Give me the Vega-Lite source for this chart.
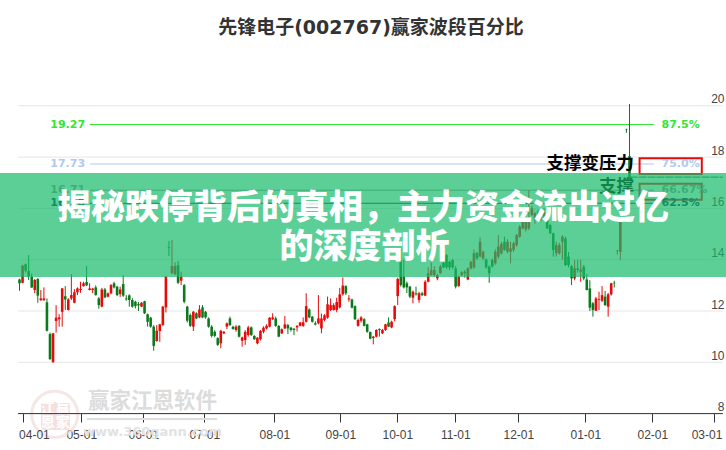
{"$schema":"https://vega.github.io/schema/vega-lite/v6.json","width":726,"height":450,"autosize":{"type":"none"},"padding":0,"background":"white",
"title":{"text":"先锋电子(002767)赢家波段百分比","frame":"group","anchor":"middle","orient":"top","offset":-38,"dx":8,"font":"DejaVu Sans, Noto Sans CJK SC","fontSize":19,"fontWeight":"bold","color":"#333333"},
"config":{"view":{"stroke":null}},
"datasets":{
"grid":[{"p":8},{"p":10},{"p":12},{"p":14},{"p":16},{"p":18},{"p":20}],
"levels":[{"pct":"87.5%","p":19.27,"v":"19.27"},{"pct":"75.0%","p":17.73,"v":"17.73"},{"pct":"66.67%","p":16.71,"v":"16.71"},{"pct":"62.5%","p":16.2,"v":"16.20"}],
"notes":[{"t":"支撑变压力","p":17.73},{"t":"支撑","p":16.83}],
"boxes":[{"a":17.96,"b":17.34},{"a":16.96,"b":16.34}],
"edge":[{"m":"04-01","i":4.9},{"m":"03-01","i":225.4}],
"candles":[
{"i":0,"o":13.23,"c":13.08,"h":13.26,"l":12.79},{"i":1,"o":13.1,"c":13.77,"h":13.8,"l":13.08},{"i":2,"o":13.82,"c":13.57,"h":13.85,"l":13.5},{"i":3,"o":13.56,"c":13.34,"h":14.18,"l":13.21},{"i":4,"o":13.34,"c":12.92,"h":13.47,"l":12.9},{"i":5,"o":12.82,"c":13.21,"h":13.25,"l":12.69},{"i":6,"o":13.25,"c":12.6,"h":13.28,"l":12.32},{"i":7,"o":12.42,"c":12.49,"h":12.82,"l":12.4},{"i":8,"o":12.42,"c":12.49,"h":12.92,"l":12.4},{"i":9,"o":12.34,"c":11.23,"h":12.49,"l":11.2},
{"i":10,"o":11.1,"c":10.12,"h":11.16,"l":10.1},{"i":11,"o":10.0,"c":11.13,"h":11.15,"l":10.0},{"i":12,"o":11.61,"c":11.74,"h":12.23,"l":11.16},{"i":13,"o":11.68,"c":11.75,"h":11.88,"l":11.39},{"i":14,"o":11.97,"c":12.88,"h":12.9,"l":11.39},{"i":15,"o":12.58,"c":12.45,"h":12.97,"l":12.04},{"i":16,"o":12.04,"c":12.45,"h":12.5,"l":12.02},{"i":17,"o":12.49,"c":12.62,"h":13.44,"l":12.43},{"i":18,"o":12.32,"c":12.73,"h":12.85,"l":12.3},{"i":19,"o":12.73,"c":12.88,"h":12.92,"l":12.62},
{"i":20,"o":12.82,"c":12.86,"h":13.14,"l":12.71},{"i":21,"o":12.97,"c":13.08,"h":13.14,"l":12.95},{"i":22,"o":13.13,"c":13.0,"h":13.75,"l":12.97},{"i":23,"o":12.82,"c":12.88,"h":13.08,"l":12.8},{"i":24,"o":12.82,"c":12.87,"h":12.9,"l":12.69},{"i":25,"o":12.92,"c":12.62,"h":13.0,"l":12.6},{"i":26,"o":12.49,"c":12.23,"h":12.55,"l":12.09},{"i":27,"o":12.17,"c":12.84,"h":12.9,"l":12.15},{"i":28,"o":12.84,"c":12.53,"h":12.9,"l":12.5},{"i":29,"o":12.56,"c":12.69,"h":12.72,"l":12.53},
{"i":30,"o":12.69,"c":13.01,"h":13.05,"l":12.65},{"i":31,"o":13.08,"c":12.92,"h":13.14,"l":12.88},{"i":32,"o":12.95,"c":12.62,"h":12.98,"l":12.58},{"i":33,"o":12.66,"c":12.84,"h":12.95,"l":12.55},{"i":34,"o":13.05,"c":12.6,"h":13.4,"l":12.55},{"i":35,"o":12.49,"c":12.45,"h":12.62,"l":12.4},{"i":36,"o":12.61,"c":12.43,"h":12.65,"l":12.17},{"i":37,"o":12.43,"c":12.17,"h":12.5,"l":12.13},{"i":38,"o":12.36,"c":12.19,"h":12.4,"l":12.1},{"i":39,"o":12.27,"c":12.22,"h":12.35,"l":12.0},
{"i":40,"o":12.17,"c":12.32,"h":12.35,"l":12.15},{"i":41,"o":12.38,"c":11.91,"h":12.4,"l":11.88},{"i":42,"o":11.87,"c":11.58,"h":11.9,"l":11.39},{"i":43,"o":11.74,"c":11.39,"h":11.77,"l":11.35},{"i":44,"o":11.39,"c":10.64,"h":11.45,"l":10.45},{"i":45,"o":10.83,"c":11.23,"h":11.45,"l":10.8},{"i":46,"o":11.22,"c":11.48,"h":11.5,"l":10.8},{"i":47,"o":11.45,"c":12.17,"h":12.2,"l":11.42},{"i":48,"o":12.14,"c":13.34,"h":13.36,"l":11.94},{"i":49,"o":14.5,"c":14.47,"h":14.73,"l":14.14},
{"i":50,"o":13.47,"c":13.75,"h":14.77,"l":13.45},{"i":51,"o":13.44,"c":13.75,"h":13.9,"l":13.4},{"i":52,"o":13.79,"c":13.1,"h":13.95,"l":13.05},{"i":53,"o":13.18,"c":13.34,"h":13.53,"l":13.01},{"i":54,"o":13.01,"c":12.36,"h":13.05,"l":12.3},{"i":55,"o":12.17,"c":11.62,"h":12.2,"l":11.55},{"i":56,"o":11.84,"c":11.42,"h":11.9,"l":11.38},{"i":57,"o":11.39,"c":11.97,"h":12.0,"l":11.22},{"i":58,"o":11.91,"c":11.71,"h":11.95,"l":11.68},{"i":59,"o":11.75,"c":12.06,"h":12.23,"l":11.72},
{"i":60,"o":12.14,"c":11.75,"h":12.23,"l":11.72},{"i":61,"o":11.97,"c":11.75,"h":12.0,"l":11.7},{"i":62,"o":11.71,"c":11.39,"h":11.75,"l":11.35},{"i":63,"o":11.39,"c":11.03,"h":11.45,"l":10.97},{"i":64,"o":11.19,"c":11.03,"h":11.25,"l":10.98},{"i":65,"o":10.94,"c":10.68,"h":10.98,"l":10.64},{"i":66,"o":10.74,"c":11.23,"h":11.26,"l":10.55},{"i":67,"o":11.13,"c":11.19,"h":11.22,"l":11.1},{"i":68,"o":11.39,"c":11.52,"h":11.55,"l":11.3},{"i":69,"o":11.71,"c":11.45,"h":11.78,"l":11.42},
{"i":70,"o":11.39,"c":11.3,"h":11.42,"l":11.27},{"i":71,"o":11.26,"c":11.39,"h":11.45,"l":11.19},{"i":72,"o":11.42,"c":11.0,"h":11.45,"l":10.97},{"i":73,"o":10.84,"c":10.97,"h":11.0,"l":10.61},{"i":74,"o":10.87,"c":11.19,"h":11.25,"l":10.68},{"i":75,"o":11.06,"c":11.36,"h":11.42,"l":11.0},{"i":76,"o":11.36,"c":11.06,"h":11.4,"l":11.03},{"i":77,"o":11.03,"c":10.9,"h":11.06,"l":10.87},{"i":78,"o":10.74,"c":10.96,"h":10.98,"l":10.7},{"i":79,"o":10.9,"c":11.22,"h":11.26,"l":10.85},
{"i":80,"o":11.19,"c":11.35,"h":11.4,"l":11.13},{"i":81,"o":11.32,"c":11.42,"h":11.48,"l":11.28},{"i":82,"o":11.39,"c":11.74,"h":11.76,"l":11.36},{"i":83,"o":11.68,"c":11.75,"h":11.91,"l":11.65},{"i":84,"o":11.71,"c":11.42,"h":11.78,"l":11.38},{"i":85,"o":11.42,"c":11.0,"h":11.45,"l":10.98},{"i":86,"o":11.13,"c":11.29,"h":11.32,"l":11.1},{"i":87,"o":11.32,"c":11.48,"h":11.81,"l":11.3},{"i":88,"o":11.45,"c":11.32,"h":11.5,"l":11.1},{"i":89,"o":11.35,"c":11.26,"h":11.38,"l":11.2},
{"i":90,"o":11.31,"c":11.26,"h":11.33,"l":11.06},{"i":91,"o":11.36,"c":11.42,"h":11.45,"l":11.2},{"i":92,"o":11.42,"c":11.55,"h":11.58,"l":11.4},{"i":93,"o":11.42,"c":11.56,"h":11.75,"l":11.38},{"i":94,"o":11.58,"c":12.19,"h":12.69,"l":11.55},{"i":95,"o":12.06,"c":11.75,"h":12.1,"l":11.72},{"i":96,"o":11.78,"c":11.58,"h":11.8,"l":11.55},{"i":97,"o":11.52,"c":11.47,"h":11.6,"l":11.44},{"i":98,"o":11.52,"c":11.71,"h":12.62,"l":11.48},{"i":99,"o":11.32,"c":11.71,"h":11.9,"l":11.13},
{"i":100,"o":11.65,"c":11.83,"h":11.88,"l":11.6},{"i":101,"o":11.74,"c":12.26,"h":12.56,"l":11.7},{"i":102,"o":12.04,"c":12.23,"h":12.49,"l":12.0},{"i":103,"o":12.04,"c":12.23,"h":12.3,"l":12.02},{"i":104,"o":12.04,"c":12.35,"h":12.52,"l":11.95},{"i":105,"o":12.14,"c":12.65,"h":12.9,"l":12.1},{"i":106,"o":12.65,"c":12.99,"h":13.31,"l":12.6},{"i":107,"o":12.97,"c":12.69,"h":13.0,"l":12.62},{"i":108,"o":12.45,"c":12.49,"h":12.62,"l":12.36},{"i":109,"o":12.45,"c":12.13,"h":12.48,"l":12.1},
{"i":110,"o":12.19,"c":11.68,"h":12.22,"l":11.65},{"i":111,"o":11.42,"c":11.65,"h":11.7,"l":11.39},{"i":112,"o":11.62,"c":11.75,"h":11.8,"l":11.55},{"i":113,"o":11.68,"c":11.42,"h":11.72,"l":11.4},{"i":114,"o":11.48,"c":11.19,"h":11.5,"l":11.15},{"i":115,"o":11.18,"c":10.92,"h":11.2,"l":10.9},{"i":116,"o":10.95,"c":11.0,"h":11.03,"l":10.7},{"i":117,"o":11.0,"c":11.26,"h":11.29,"l":10.97},{"i":118,"o":11.3,"c":11.26,"h":11.32,"l":11.0},{"i":119,"o":11.13,"c":11.26,"h":11.3,"l":11.1},
{"i":120,"o":11.26,"c":11.48,"h":11.5,"l":11.23},{"i":121,"o":11.55,"c":11.39,"h":11.75,"l":11.37},{"i":122,"o":11.36,"c":11.58,"h":11.62,"l":11.33},{"i":123,"o":11.68,"c":12.19,"h":12.22,"l":11.6},{"i":124,"o":12.58,"c":13.25,"h":13.3,"l":12.23},{"i":125,"o":13.99,"c":13.01,"h":14.44,"l":12.95},{"i":126,"o":13.34,"c":12.92,"h":13.99,"l":12.88},{"i":127,"o":13.08,"c":12.92,"h":13.15,"l":12.7},{"i":128,"o":12.95,"c":12.56,"h":12.98,"l":12.5},{"i":129,"o":12.52,"c":12.75,"h":12.8,"l":12.3},
{"i":130,"o":12.69,"c":12.65,"h":12.95,"l":12.6},{"i":131,"o":12.43,"c":12.69,"h":12.75,"l":12.32},{"i":132,"o":12.69,"c":12.62,"h":12.75,"l":12.58},{"i":133,"o":12.6,"c":13.14,"h":13.2,"l":12.58},{"i":134,"o":13.14,"c":13.47,"h":13.7,"l":13.12},{"i":135,"o":13.4,"c":13.6,"h":13.9,"l":13.38},{"i":136,"o":13.4,"c":13.6,"h":13.75,"l":13.35},{"i":137,"o":13.27,"c":13.4,"h":13.45,"l":13.2},{"i":138,"o":13.47,"c":13.73,"h":13.8,"l":13.45},{"i":139,"o":13.88,"c":13.7,"h":13.92,"l":13.68},
{"i":140,"o":14.18,"c":13.7,"h":14.22,"l":13.65},{"i":141,"o":13.92,"c":13.7,"h":13.95,"l":13.6},{"i":142,"o":13.99,"c":13.7,"h":14.02,"l":13.65},{"i":143,"o":13.66,"c":12.95,"h":13.75,"l":12.88},{"i":144,"o":12.97,"c":13.34,"h":13.38,"l":12.95},{"i":145,"o":13.4,"c":13.51,"h":13.55,"l":13.35},{"i":146,"o":13.53,"c":13.47,"h":13.6,"l":13.3},{"i":147,"o":13.23,"c":13.66,"h":13.7,"l":13.2},{"i":148,"o":13.66,"c":13.92,"h":13.95,"l":13.62},{"i":149,"o":13.7,"c":14.25,"h":14.4,"l":13.65},
{"i":150,"o":14.27,"c":14.05,"h":14.3,"l":14.0},{"i":151,"o":14.12,"c":14.7,"h":14.87,"l":14.1},{"i":152,"o":14.05,"c":14.31,"h":14.35,"l":14.0},{"i":153,"o":14.01,"c":13.7,"h":14.05,"l":13.65},{"i":154,"o":13.73,"c":13.47,"h":13.78,"l":13.1},{"i":155,"o":13.99,"c":13.73,"h":14.05,"l":13.7},{"i":156,"o":13.86,"c":14.31,"h":14.4,"l":13.8},{"i":157,"o":14.12,"c":14.51,"h":14.96,"l":14.05},{"i":158,"o":14.25,"c":14.61,"h":14.7,"l":14.2},{"i":159,"o":14.7,"c":14.38,"h":14.9,"l":14.35},
{"i":160,"o":14.31,"c":14.7,"h":14.8,"l":14.25},{"i":161,"o":14.31,"c":14.44,"h":14.7,"l":13.86},{"i":162,"o":14.38,"c":14.64,"h":14.7,"l":14.3},{"i":163,"o":14.57,"c":14.96,"h":15.0,"l":14.5},{"i":164,"o":14.9,"c":15.29,"h":15.35,"l":14.85},{"i":165,"o":15.22,"c":15.68,"h":15.9,"l":15.18},{"i":166,"o":15.18,"c":15.55,"h":15.6,"l":15.1},{"i":167,"o":15.22,"c":15.55,"h":16.71,"l":15.15},{"i":168,"o":15.74,"c":16.0,"h":16.1,"l":15.7},{"i":169,"o":15.55,"c":15.81,"h":15.85,"l":15.4},
{"i":170,"o":15.87,"c":15.61,"h":15.95,"l":15.55},{"i":171,"o":15.61,"c":15.81,"h":15.9,"l":15.5},{"i":172,"o":15.68,"c":15.87,"h":16.0,"l":15.6},{"i":173,"o":15.55,"c":15.22,"h":15.68,"l":15.2},{"i":174,"o":15.35,"c":15.03,"h":15.4,"l":15.0},{"i":175,"o":15.03,"c":14.38,"h":15.05,"l":14.12},{"i":176,"o":14.25,"c":14.57,"h":14.7,"l":14.12},{"i":177,"o":14.25,"c":14.57,"h":14.66,"l":14.2},{"i":178,"o":14.7,"c":14.9,"h":14.95,"l":14.0},{"i":179,"o":14.83,"c":13.79,"h":14.9,"l":13.75},
{"i":180,"o":14.12,"c":13.79,"h":14.3,"l":13.7},{"i":181,"o":13.75,"c":13.27,"h":13.8,"l":13.01},{"i":182,"o":13.27,"c":13.66,"h":13.99,"l":13.2},{"i":183,"o":13.66,"c":13.6,"h":14.0,"l":13.5},{"i":184,"o":13.53,"c":13.62,"h":14.0,"l":13.14},{"i":185,"o":13.73,"c":13.27,"h":13.8,"l":13.2},{"i":186,"o":13.23,"c":12.82,"h":13.45,"l":12.8},{"i":187,"o":12.88,"c":12.13,"h":13.2,"l":12.0},{"i":188,"o":12.3,"c":12.04,"h":12.35,"l":11.78},{"i":189,"o":12.01,"c":12.49,"h":12.55,"l":12.0},
{"i":190,"o":12.44,"c":12.47,"h":12.75,"l":12.04},{"i":191,"o":12.4,"c":12.62,"h":12.97,"l":12.35},{"i":192,"o":12.56,"c":12.23,"h":12.78,"l":12.2},{"i":193,"o":12.17,"c":12.65,"h":12.7,"l":11.78},{"i":194,"o":12.65,"c":13.08,"h":13.1,"l":12.6},{"i":195,"o":13.1,"c":13.08,"h":13.18,"l":12.92},{"i":196,"o":14.36,"c":14.38,"h":14.38,"l":14.2},{"i":197,"o":14.3,"c":15.55,"h":15.6,"l":13.99},{"i":199,"o":19.1,"c":19.08,"h":19.1,"l":18.95},{"i":200,"o":18.04,"c":17.22,"h":20.07,"l":17.1}
]},
"layer":[
{"data":{"name":"grid"},"mark":{"type":"rule","color":"#e6e6e6","strokeWidth":1},
"encoding":{"x":{"datum":-0.5,"type":"quantitative","scale":{"domain":[-6.393,231.639],"nice":false,"zero":false,"padding":0},
"axis":{"title":null,"orient":"bottom","offset":-37,"domain":false,"grid":false,"tickSize":9,"tickColor":"#333333","labelFont":"Liberation Sans","labelFontSize":12,"labelColor":"#444444","labelPadding":7,"labelOverlap":false,"labelFlush":false,"labelBound":false,
"values":[1.25,20.26,40.59,60.59,83.54,105.18,123.87,142.89,163.54,185.51,207.48,227.8],
"labelExpr":"['','05-01','06-01','07-01','08-01','09-01','10-01','11-01','12-01','01-01','02-01',''][round(datum.index*11)]"}},
"x2":{"datum":230.6},
"y":{"field":"p","type":"quantitative","scale":{"domain":[6.581,24.125],"nice":false,"zero":false},
"axis":{"title":null,"orient":"right","offset":-2,"domain":false,"grid":false,"ticks":false,"values":[8,10,12,14,16,18,20],"labelAlign":"right","labelBaseline":"bottom","labelPadding":0,"labelFont":"Liberation Sans","labelFontSize":12,"labelColor":"#444444","labelOverlap":false,"labelFlush":false,"labelBound":false}}}},
{"data":{"values":[{"t":"赢家江恩软件","p":8.45}]},"mark":{"type":"text","font":"Noto Sans CJK SC","fontWeight":"bold","fontSize":21.5,"color":"#dcdcdc"},"encoding":{"x":{"datum":43.6},"y":{"field":"p","type":"quantitative"},"text":{"field":"t"}}},
{"data":{"values":[{"t":"www.360gann.com","p":7.29}]},"mark":{"type":"text","font":"DejaVu Sans","fontSize":13,"fontWeight":"bold","color":"#e2e2e2"},"encoding":{"x":{"datum":43.6},"y":{"field":"p","type":"quantitative"},"text":{"field":"t"}}},
{"data":{"values":[{"p":7.79}]},"mark":{"type":"rule","color":"#dddddd","strokeWidth":2},"encoding":{"x":{"datum":22.1},"x2":{"datum":64.8},"y":{"field":"p","type":"quantitative"}}},
{"data":{"values":[{"p":7.97}]},"mark":{"type":"point","shape":"circle","filled":false,"size":2124,"color":"#f3dede","strokeWidth":3},"encoding":{"x":{"datum":11.55},"y":{"field":"p","type":"quantitative"}}},
{"data":{"values":[{"a":8.45,"b":7.36}]},"mark":{"type":"rect","color":"#f5e0e0","cornerRadius":3},"encoding":{"x":{"datum":7.05},"x2":{"datum":16.5},"y":{"field":"a","type":"quantitative"},"y2":{"field":"b"}}},
{"data":{"values":[{"t":"江","k":9.3,"p":8.18},{"t":"赢","k":14.2,"p":8.18},{"t":"恩","k":9.3,"p":7.63},{"t":"家","k":14.2,"p":7.63}]},"mark":{"type":"text","font":"Noto Sans CJK SC","fontWeight":"bold","fontSize":14,"color":"#ffffff"},"encoding":{"x":{"field":"k","type":"quantitative"},"y":{"field":"p","type":"quantitative"},"text":{"field":"t"}}},
{"data":{"values":[{"p":8}]},"mark":{"type":"rule","color":"#333333","strokeWidth":1},"encoding":{"x":{"datum":-0.5},"x2":{"datum":230.6},"y":{"field":"p","type":"quantitative"}}},
{"data":{"name":"edge"},"mark":{"type":"text","font":"Liberation Sans","fontSize":12,"color":"#444444"},"encoding":{"x":{"field":"i","type":"quantitative"},"y":{"datum":7.166},"text":{"field":"m"}}},
{"data":{"name":"levels"},"mark":{"type":"rule","strokeWidth":1},"encoding":{"x":{"datum":23.1},"x2":{"datum":208},"y":{"field":"p","type":"quantitative"},"color":{"field":"pct","type":"nominal","legend":null,"scale":{"domain":["87.5%","75.0%","66.67%","62.5%"],"range":["#33e633","#b4c8ee","#909090","#00205a"]}}}},
{"data":{"values":[{"p":17.22}]},"mark":{"type":"rule","color":"#0a7a28","strokeWidth":1,"strokeDash":[8,1]},"encoding":{"x":{"datum":200},"x2":{"datum":230.6},"y":{"field":"p","type":"quantitative"}}},
{"data":{"name":"candles"},"mark":{"type":"rule","strokeWidth":1},"encoding":{"x":{"field":"i","type":"quantitative"},"y":{"field":"l","type":"quantitative"},"y2":{"field":"h"},"color":{"condition":{"test":"datum.c>=datum.o","value":"#e60a0a"},"value":"#0a7a1e"}}},
{"data":{"name":"candles"},"mark":{"type":"bar","size":2.6,"orient":"vertical"},"encoding":{"x":{"field":"i","type":"quantitative"},"y":{"field":"o","type":"quantitative"},"y2":{"field":"c"},"color":{"condition":{"test":"datum.c>=datum.o","value":"#e60a0a"},"value":"#0a7a1e"}}},
{"data":{"name":"boxes"},"mark":{"type":"rect","fillOpacity":0,"stroke":"#e60a0a","strokeWidth":2},"encoding":{"x":{"datum":203.3},"x2":{"datum":223.7},"y":{"field":"a","type":"quantitative"},"y2":{"field":"b"}}},
{"data":{"name":"levels"},"mark":{"type":"text","align":"right","font":"DejaVu Sans","fontWeight":"bold","fontSize":11},"encoding":{"x":{"datum":21.5},"y":{"field":"p","type":"quantitative"},"text":{"field":"v"},"color":{"field":"pct","type":"nominal","legend":null}}},
{"data":{"name":"levels"},"mark":{"type":"text","align":"left","font":"DejaVu Sans","fontWeight":"bold","fontSize":11},"encoding":{"x":{"datum":210.5},"y":{"field":"p","type":"quantitative"},"text":{"field":"pct"},"color":{"field":"pct","type":"nominal","legend":null}}},
{"data":{"name":"notes"},"mark":{"type":"text","align":"right","font":"Noto Sans CJK SC","fontWeight":"bold","fontSize":17.5,"color":"#000000"},"encoding":{"x":{"datum":201.5},"y":{"field":"p","type":"quantitative"},"text":{"field":"t"}}},
{"data":{"values":[{"a":17.38,"b":13.33}]},"mark":{"type":"rect","color":"#17bb6b","opacity":0.7},"encoding":{"x":{"datum":-6.393},"x2":{"datum":231.639},"y":{"field":"a","type":"quantitative"},"y2":{"field":"b"}}},
{"data":{"values":[{"t":"揭秘跌停背后的真相，主力资金流出过亿","k":112.6,"p":15.99},{"t":"的深度剖析","k":113.1,"p":14.47}]},"mark":{"type":"text","font":"Noto Sans CJK SC","fontWeight":900,"fontSize":34,"color":"#ffffff"},"encoding":{"x":{"field":"k","type":"quantitative"},"y":{"field":"p","type":"quantitative"},"text":{"field":"t"}}}
]}
